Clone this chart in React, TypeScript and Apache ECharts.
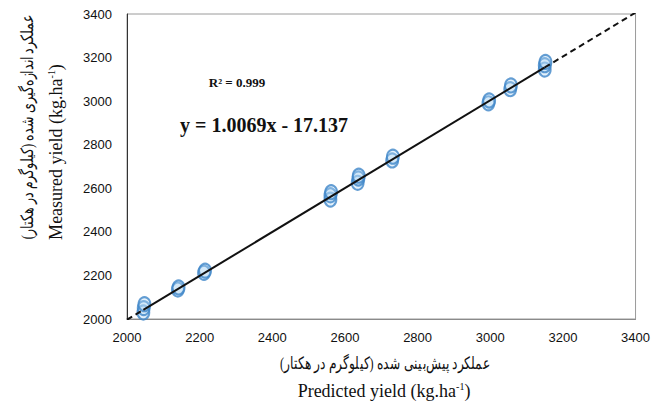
import React, { useEffect, useRef } from "react";
import * as echarts from "echarts";

const predicted = [2045, 2046, 2048, 2140, 2142, 2212, 2215, 2560, 2560, 2562, 2635, 2637, 2638, 2730, 2732, 2995, 2997, 3055, 3057, 3150, 3150, 3152];
const measured = [2030, 2050, 2068, 2135, 2145, 2212, 2222, 2548, 2568, 2582, 2625, 2645, 2658, 2728, 2745, 2990, 3003, 3055, 3072, 3145, 3165, 3180];
const slope = 1.0069;
const intercept = -17.137;
const axisMin = 2000;
const axisMax = 3400;
const axisStep = 200;
const fitRange = [2045, 3150];

const serif = "'Times New Roman', 'Liberation Serif', 'DejaVu Serif', serif";
const sans = "'Liberation Sans', Arial, sans-serif";

export default function App() {
  const ref = useRef<HTMLDivElement>(null);
  useEffect(() => {
    if (!ref.current) return;
    const chart = echarts.init(ref.current, null, { renderer: "svg" });
    const f = (x: number) => slope * x + intercept;
    const pts = predicted.map((p, i) => [p, measured[i]]);
    const richTitle = {
      a: { font: `18px ${serif}`, fontFamily: serif, fontSize: 18, fill: "#111", lineHeight: 20 },
      s: { font: `10px ${serif}`, fontFamily: serif, fontSize: 10, fill: "#111", verticalAlign: "top", lineHeight: 20 },
    };
    chart.setOption({
      animation: false,
      backgroundColor: "#fff",
      grid: { left: 127, top: 14, width: 511, height: 305, show: true, borderColor: "#9a9a9a", borderWidth: 1 },
      xAxis: {
        type: "value", min: axisMin, max: axisMax, interval: axisStep,
        axisLine: { show: true, lineStyle: { color: "#8a8a8a" } },
        axisTick: { show: false }, splitLine: { show: false },
        axisLabel: { color: "#111", fontFamily: sans, fontSize: 13, margin: 12, formatter: (v: number) => String(v) },
      },
      yAxis: {
        type: "value", min: axisMin, max: axisMax, interval: axisStep,
        axisLine: { show: true, lineStyle: { color: "#333" } },
        axisTick: { show: false }, splitLine: { show: false },
        axisLabel: { color: "#111", fontFamily: sans, fontSize: 13, margin: 15, formatter: (v: number) => String(v) },
      },
      series: [
        {
          type: "line", data: [[axisMin, f(axisMin)], [fitRange[0], f(fitRange[0])]],
          symbol: "none", lineStyle: { color: "#111", width: 2, type: [6, 4] }, z: 3,
        },
        {
          type: "line", data: [[fitRange[1], f(fitRange[1])], [axisMax, f(axisMax)]],
          symbol: "none", lineStyle: { color: "#111", width: 2, type: [6, 4] }, z: 3,
        },
        {
          type: "scatter", data: pts, symbol: "circle", symbolSize: [12, 14],
          itemStyle: { color: "rgba(180,215,245,0.45)", borderColor: "#3f86c8", borderWidth: 2 }, z: 2,
        },
        {
          type: "line", data: [[fitRange[0], f(fitRange[0])], [fitRange[1], f(fitRange[1])]],
          symbol: "none", lineStyle: { color: "#111", width: 2 }, z: 4,
        },
      ],
      graphic: [
        { type: "text", x: 237, y: 82, style: { text: "R² = 0.999", font: `bold 13px ${serif}`, fill: "#111", align: "center", verticalAlign: "middle" } },
        { type: "text", x: 180, y: 125, style: { text: "y = 1.0069x - 17.137", font: `bold 20px ${serif}`, fill: "#111", align: "left", verticalAlign: "middle" } },
        { type: "text", x: 385, y: 363, scaleX: 0.72, style: { text: "عملکرد پیش‌بینی شده (کیلوگرم در هکتار)", font: `17px ${serif}`, fill: "#111", align: "center", verticalAlign: "middle" } },
        {
          type: "text", x: 384, y: 391,
          style: { text: "{a|Predicted yield (kg.ha}{s|-1}{a|)}", font: `18px ${serif}`, align: "center", verticalAlign: "middle", rich: richTitle },
        },
        { type: "text", x: 27, y: 127, rotation: Math.PI / 2, scaleX: 0.74, style: { text: "عملکرد اندازه‌گیری شده (کیلوگرم در هکتار)", font: `17px ${serif}`, fill: "#111", align: "center", verticalAlign: "middle" } },
        {
          type: "text", x: 56, y: 152, rotation: Math.PI / 2,
          style: { text: "{a|Measured yield (kg.ha}{s|-1}{a|)}", font: `18px ${serif}`, align: "center", verticalAlign: "middle", rich: richTitle },
        },
      ],
    });
    return () => chart.dispose();
  }, []);
  return <div ref={ref} style={{ position: "fixed", left: 0, top: 0, width: 653, height: 410 }} />;
}
